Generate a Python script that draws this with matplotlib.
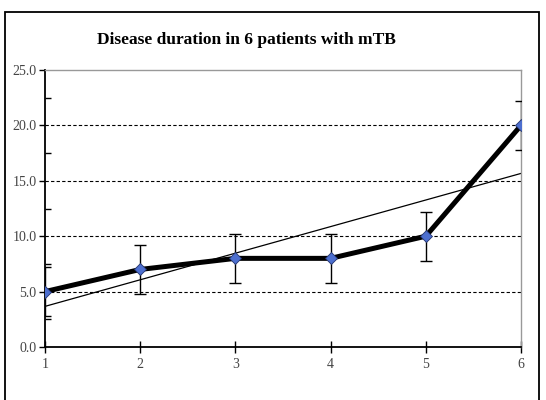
import numpy as np
import matplotlib.pyplot as plt
from matplotlib.patches import Rectangle
from matplotlib.ticker import MultipleLocator

patients = [1, 2, 3, 4, 5, 6]
duration = [5.0, 7.0, 8.0, 8.0, 10.0, 20.0]
err = [2.2, 2.2, 2.2, 2.2, 2.2, 2.2]
yticks = [0, 5, 10, 15, 20, 25]

plt.rcParams['font.family'] = ['Liberation Serif', 'DejaVu Serif']

fig = plt.figure(figsize=(5.46, 4.0), dpi=100)
# outer chart frame
fig.patches.append(Rectangle((5/546, -0.05), 534/546, 1.05 - 12/400,
                             transform=fig.transFigure, fill=False,
                             edgecolor='black', lw=1.3))

ax = fig.add_axes([45/546, 53/400, 476/546, 277/400])

x = np.array(patients)
y = np.array(duration)

# linear trendline
k, b = np.polyfit(x, y, 1)
ax.plot(x, k*x + b, color='black', lw=0.9, zorder=2)

ax.errorbar(x, y, yerr=err, fmt='none', ecolor='black', elinewidth=1.0,
            capsize=4.5, capthick=1.0, zorder=3)
ax.plot(x, y, color='black', lw=3.6, zorder=4)
ax.plot(x, y, ls='none', marker='D', ms=6, mfc='#4d6fcf', mec='#23346e',
        mew=0.6, zorder=5)

for v in yticks[1:-1]:
    ax.axhline(v, color='black', lw=0.8, ls=(0, (3, 2)), zorder=1)

ax.set_xlim(1, 6)
ax.set_ylim(0, 25)
ax.set_xticks(patients)
ax.set_yticks(yticks)
ax.set_yticklabels([f'{v:.1f}' for v in yticks])
ax.yaxis.set_minor_locator(MultipleLocator(2.5))
ax.tick_params(axis='y', which='major', direction='out', length=4, width=1,
               labelsize=10, labelcolor='#444444', pad=2)
ax.tick_params(axis='y', which='minor', direction='in', length=4, width=1)
ax.tick_params(axis='x', direction='inout', length=8, width=1,
               labelsize=10, labelcolor='#444444', pad=4)

for s in ['left', 'bottom']:
    ax.spines[s].set_linewidth(1.3)
for s in ['top', 'right']:
    ax.spines[s].set_color('#999999')
    ax.spines[s].set_linewidth(1.0)

fig.text(246/546, 1 - 40/400, 'Disease duration in 6 patients with mTB',
         ha='center', va='center', fontsize=12.5, fontweight='bold')

fig.savefig('out.png', dpi=100)
